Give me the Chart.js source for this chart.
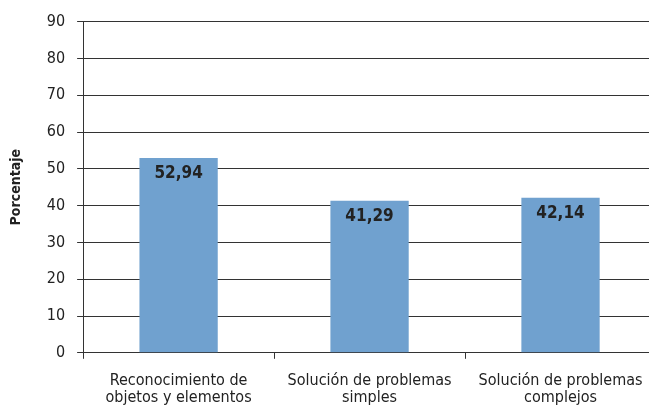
<!DOCTYPE html>
<html>
<head>
<meta charset="utf-8">
<script src="https://cdn.jsdelivr.net/npm/chart.js@4.4.1/dist/chart.umd.min.js"></script>
<style>
  html, body { margin: 0; padding: 0; background: #fff; overflow: hidden; }
  #wrap { position: relative; width: 656px; height: 408px; }
</style>
</head>
<body>
<div id="wrap"><canvas id="chart"></canvas></div>
<script>
// datos
const categorias = [
    ['Reconocimiento de', 'objetos y elementos'],
    ['Solución de problemas', 'simples'],
    ['Solución de problemas', 'complejos']
];
const porcentajes = [52.94, 41.29, 42.14];
const etiquetas = ['52,94', '41,29', '42,14'];

const fuente = "'Liberation Sans Narrow', 'DejaVu Sans Condensed', 'Roboto', sans-serif";

// etiquetas dentro de las barras
const etiquetasBarras = {
    id: 'etiquetasBarras',
    afterDatasetsDraw(chart) {
        const ctx = chart.ctx;
        const meta = chart.getDatasetMeta(0);
        ctx.save();
        ctx.font = 'bold 17px ' + fuente;
        ctx.fillStyle = '#222';
        ctx.textAlign = 'center';
        ctx.textBaseline = 'middle';
        meta.data.forEach((bar, i) => {
            ctx.fillText(etiquetas[i], bar.x, bar.y + 16);
        });
        ctx.restore();
    }
};

const ctx = document.getElementById('chart').getContext('2d');
new Chart(ctx, {
    type: 'bar',
    data: {
        labels: categorias,
        datasets: [{
            data: porcentajes,
            backgroundColor: '#70a1cf',
            borderWidth: 0,
            categoryPercentage: 1,
            barPercentage: 0.41
        }]
    },
    options: {
        responsive: true,
        maintainAspectRatio: false,
        animation: false,
        layout: { padding: { top: 12, left: 4, right: 0, bottom: -12 } },
        plugins: {
            legend: { display: false },
            tooltip: { enabled: false }
        },
        scales: {
            x: {
                offset: true,
                border: { color: '#333', width: 1 },
                grid: {
                    offset: true,
                    drawOnChartArea: false,
                    drawTicks: true,
                    tickLength: 6,
                    color: '#333'
                },
                ticks: {
                    color: '#222',
                    padding: 13,
                    maxRotation: 0,
                    font: { family: fuente, size: 16, lineHeight: 1.1 }
                }
            },
            y: {
                min: 0,
                max: 90,
                border: { color: '#333', width: 1 },
                grid: {
                    color: '#333',
                    lineWidth: 1,
                    drawTicks: true,
                    tickLength: 6
                },
                ticks: {
                    stepSize: 10,
                    color: '#222',
                    padding: 12,
                    font: { family: fuente, size: 16 }
                },
                title: {
                    display: true,
                    text: 'Porcentaje',
                    color: '#222',
                    padding: { bottom: 10 },
                    font: { family: fuente, size: 14, weight: 'bold' }
                }
            }
        }
    },
    plugins: [etiquetasBarras]
});
</script>
</body>
</html>
